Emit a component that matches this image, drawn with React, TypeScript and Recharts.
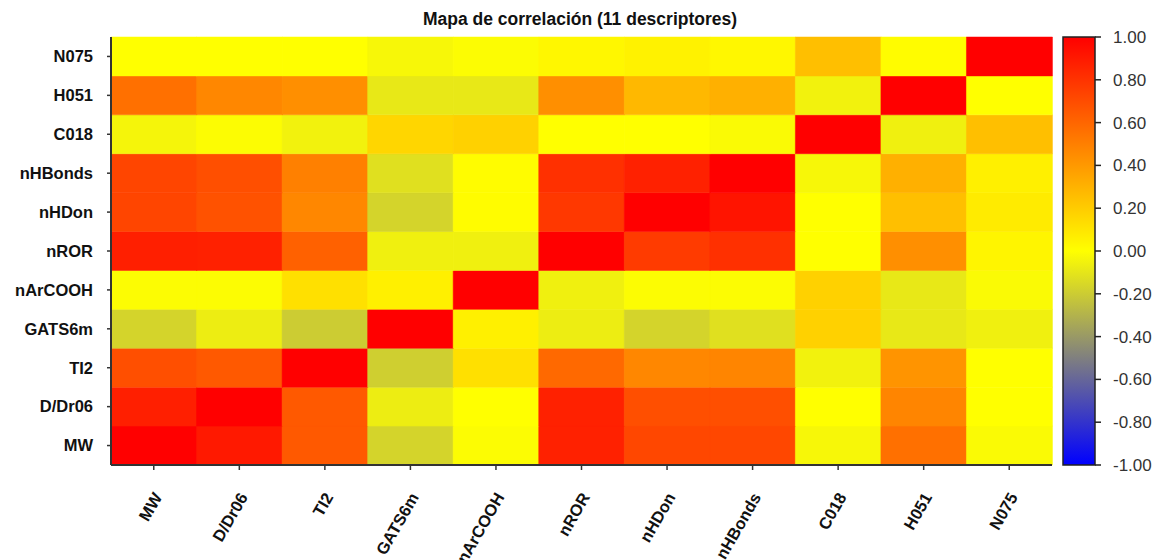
import React from 'react';
import { BarChart, Bar, XAxis, YAxis, Cell } from 'recharts';

// descriptors, in axis order (x left to right, y bottom to top)
const descriptors = ['MW', 'D/Dr06', 'TI2', 'GATS6m', 'nArCOOH', 'nROR', 'nHDon', 'nHBonds', 'C018', 'H051', 'N075'];

// correlation rows, one per descriptor (same order), columns follow descriptors
const rowMW = [1, 0.9, 0.65, -0.17, -0.01, 0.87, 0.72, 0.72, -0.03, 0.56, -0.02];
const rowDDr06 = [0.88, 1, 0.65, -0.07, 0, 0.87, 0.69, 0.69, 0, 0.48, 0];
const rowTI2 = [0.69, 0.65, 1, -0.19, 0.12, 0.59, 0.47, 0.48, -0.05, 0.42, 0];
const rowGATS6m = [-0.17, -0.07, -0.2, 1, 0.06, -0.07, -0.17, -0.12, 0.18, -0.09, -0.06];
const rowNArCOOH = [-0.01, -0.01, 0.12, 0.06, 1, -0.06, -0.01, -0.01, 0.18, -0.09, -0.02];
const rowNROR = [0.88, 0.87, 0.62, -0.06, -0.06, 1, 0.77, 0.81, 0, 0.44, 0.04];
const rowNHDon = [0.73, 0.68, 0.47, -0.17, 0.01, 0.78, 1, 0.92, 0, 0.25, 0.08];
const rowNHBonds = [0.73, 0.69, 0.5, -0.12, 0.01, 0.81, 0.87, 1, -0.03, 0.31, 0.06];
const rowC018 = [-0.04, -0.01, -0.05, 0.16, 0.18, 0, 0, -0.02, 1, -0.06, 0.25];
const rowH051 = [0.56, 0.47, 0.44, -0.09, -0.09, 0.44, 0.28, 0.31, -0.05, 1, 0];
const rowN075 = [0, 0, 0, -0.03, -0.01, 0.03, 0.05, 0.03, 0.25, 0.01, 1];

const correlations = [rowMW, rowDDr06, rowTI2, rowGATS6m, rowNArCOOH, rowNROR, rowNHDon, rowNHBonds, rowC018, rowH051, rowN075];

const scaleTicks = [-1, -0.8, -0.6, -0.4, -0.2, 0, 0.2, 0.4, 0.6, 0.8, 1];

const FONT = '"Liberation Sans", Arial, sans-serif';

// blue (-1) -> yellow (0) -> red (1)
const colorFor = (v: number) => {
  if (v >= 0) {
    return `rgb(255, ${Math.round(255 * (1 - v))}, 0)`;
  }
  const t = -v;
  const c = Math.round(255 * (1 - t));
  return `rgb(${c}, ${c}, ${Math.round(255 * t)})`;
};

// one unit segment per row, stacked inside every column
const gridData = descriptors.map((name) => {
  const row: Record<string, any> = { name };
  descriptors.forEach((_, i) => {
    row[`r${i}`] = 1;
  });
  return row;
});

const rowTicks = descriptors.map((_, i) => i + 0.5);

const XTick = (props: any) => {
  const { x, y, payload } = props;
  return (
    <g transform={`translate(${x + 9},${y + 25})`}>
      <text
        transform="rotate(-60)"
        textAnchor="end"
        fill="#111"
        fontSize={16.5}
        fontWeight={700}
        fontFamily={FONT}
      >
        {payload.value}
      </text>
    </g>
  );
};

const App = () => {
  return (
    <div style={{ position: 'absolute', left: 0, top: 0, width: 1157, height: 560, background: '#fff', fontFamily: FONT }}>
      <svg width={0} height={0} style={{ position: 'absolute' }}>
        <defs>
          <linearGradient id="scaleGrad" x1="0" y1="0" x2="0" y2="1">
            {[...scaleTicks].reverse().map((v) => (
              <stop key={v} offset={(1 - v) / 2} stopColor={colorFor(v)} />
            ))}
          </linearGradient>
        </defs>
      </svg>

      <div
        style={{
          position: 'absolute',
          left: 0,
          top: 9,
          width: 1160,
          textAlign: 'center',
          fontSize: 17.5,
          lineHeight: '20px',
          fontWeight: 700,
          color: '#111',
        }}
      >
        Mapa de correlación (11 descriptores)
      </div>

      <div style={{ position: 'absolute', left: 0, top: 0 }}>
        <BarChart
          width={1060}
          height={560}
          data={gridData}
          margin={{ top: 37, right: 8, bottom: 0, left: 0 }}
          barCategoryGap={0}
          barGap={0}
        >
          <XAxis
            dataKey="name"
            height={95}
            interval={0}
            axisLine={{ stroke: '#333', strokeWidth: 2 }}
            tickLine={{ stroke: '#333', strokeWidth: 1.5 }}
            tickSize={5}
            tick={<XTick />}
          />
          <XAxis
            xAxisId="top"
            orientation="top"
            dataKey="name"
            height={0}
            tick={false}
            tickLine={false}
            axisLine={{ stroke: '#333', strokeWidth: 2 }}
          />
          <YAxis
            type="number"
            domain={[0, descriptors.length]}
            ticks={rowTicks}
            interval={0}
            width={111}
            tickFormatter={(v: number) => descriptors[Math.floor(v)]}
            axisLine={{ stroke: '#333', strokeWidth: 2 }}
            tickLine={{ stroke: '#333', strokeWidth: 1.5 }}
            tickSize={4}
            tickMargin={14}
            tick={{ fill: '#111', fontSize: 16.5, fontWeight: 700, fontFamily: FONT }}
          />
          <YAxis
            yAxisId="right"
            orientation="right"
            type="number"
            domain={[0, descriptors.length]}
            width={0}
            tick={false}
            tickLine={false}
            axisLine={{ stroke: '#333', strokeWidth: 2 }}
          />
          {descriptors.map((rowName, i) => (
            <Bar key={rowName} dataKey={`r${i}`} stackId="grid" isAnimationActive={false}>
              {descriptors.map((colName, j) => (
                <Cell
                  key={colName}
                  fill={colorFor(correlations[i][j])}
                  stroke={colorFor(correlations[i][j])}
                  strokeWidth={0.5}
                />
              ))}
            </Bar>
          ))}
        </BarChart>
      </div>

      <div style={{ position: 'absolute', left: 1055, top: 0 }}>
        <BarChart
          width={98}
          height={560}
          data={[{ name: 'scale', span: [scaleTicks[0], scaleTicks[scaleTicks.length - 1]] }]}
          margin={{ top: 37, right: 0, bottom: 95, left: 8 }}
          barCategoryGap={0}
        >
          <XAxis dataKey="name" hide />
          <YAxis
            orientation="right"
            type="number"
            domain={[-1, 1]}
            ticks={scaleTicks}
            interval={0}
            width={58}
            axisLine={false}
            tickLine={{ stroke: '#222', strokeWidth: 1.5 }}
            tickSize={6}
            tickMargin={12}
            tickFormatter={(v: number) => v.toFixed(2)}
            tick={{ fill: '#333', fontSize: 17, fontFamily: FONT }}
          />
          <Bar dataKey="span" fill="url(#scaleGrad)" stroke="#222" strokeWidth={1.5} isAnimationActive={false} />
        </BarChart>
      </div>
    </div>
  );
};

export default App;
